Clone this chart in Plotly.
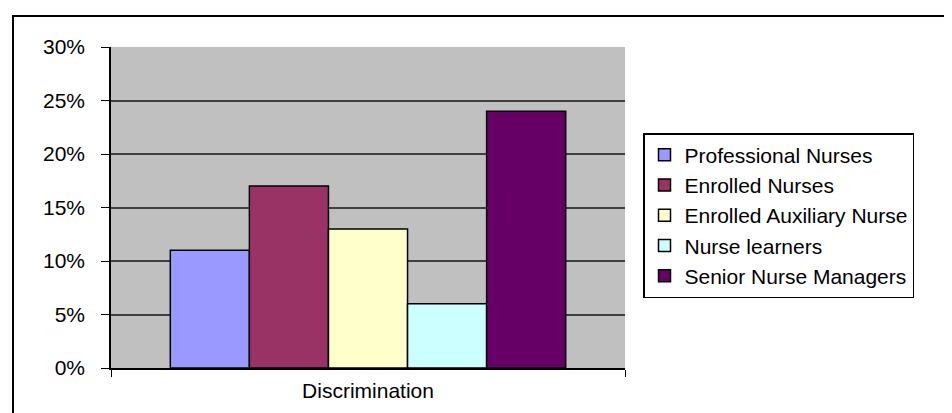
import plotly.graph_objects as go

categories = ["Discrimination"]
series_names = ["Professional Nurses", "Enrolled Nurses", "Enrolled Auxiliary Nurse",
                "Nurse learners", "Senior Nurse Managers"]
series_values = [[0.11], [0.17], [0.13], [0.06], [0.24]]
series_colors = ["#9999FF", "#993366", "#FFFFCC", "#CCFFFF", "#660066"]
y_ticks = [0, 0.05, 0.10, 0.15, 0.20, 0.25, 0.30]

FONT = dict(family="Liberation Sans, Arial, sans-serif", size=21, color="black")

fig = go.Figure()
for name, vals, col in zip(series_names, series_values, series_colors):
    fig.add_trace(go.Bar(
        x=categories, y=vals, name=name,
        marker=dict(color=col, line=dict(color="black", width=1.5)),
    ))

W, H = 952, 413
L, R, T, B = 103, 617, 39, 360

fig.update_layout(
    width=W, height=H,
    margin=dict(l=L, r=W - R, t=T, b=H - B, pad=0),
    paper_bgcolor="white",
    plot_bgcolor="#C0C0C0",
    barmode="group",
    bargap=1.5 / 6.5,
    bargroupgap=0,
    font=FONT,
    showlegend=True,
    legend=dict(
        x=(635 - L) / (R - L), y=(B - 125) / (B - T),
        xanchor="left", yanchor="top",
        bgcolor="white", bordercolor="black", borderwidth=1.5,
        font=FONT, tracegroupgap=0, itemwidth=30,
    ),
    xaxis=dict(
        showline=True, linecolor="black", linewidth=1.5,
        ticks="outside", tickson="boundaries", ticklen=7, tickcolor="black",
        showgrid=False, tickfont=FONT, ticklabelstandoff=3,
    ),
    yaxis=dict(
        range=[0, 0.30], tickvals=y_ticks, tickformat=".0%",
        showline=True, linecolor="black", linewidth=1.5,
        ticks="outside", ticklen=8, tickcolor="black",
        showgrid=True, gridcolor="#404040", gridwidth=1.5,
        zeroline=False, tickfont=FONT, ticklabelstandoff=12,
    ),
    shapes=[dict(
        type="rect", xref="paper", yref="paper",
        x0=(5 - L) / (R - L), x1=(1000 - L) / (R - L),
        y0=(B - 460) / (B - T), y1=(B - 8) / (B - T),
        line=dict(color="black", width=2), fillcolor="rgba(0,0,0,0)", layer="below",
    )],
)

fig.write_html("out.html")
